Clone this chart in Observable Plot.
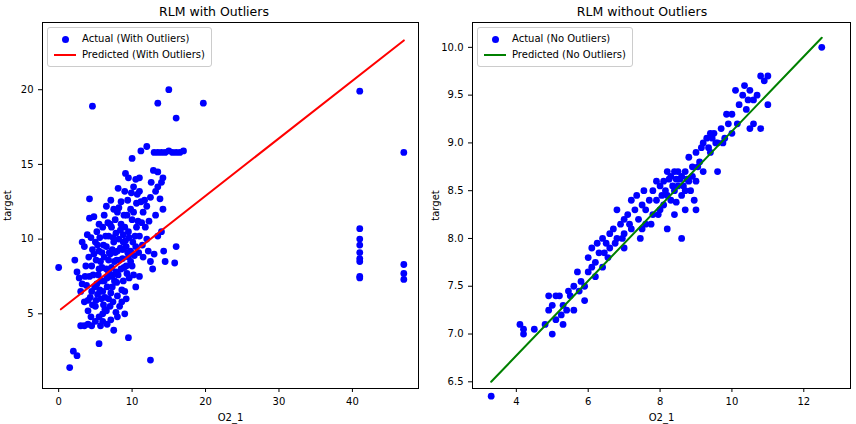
<!DOCTYPE html>
<html><head><meta charset="utf-8">
<script src="https://cdn.jsdelivr.net/npm/d3@7"></script>
<script src="https://cdn.jsdelivr.net/npm/@observablehq/plot@0.6"></script>
<style>
body{margin:0;background:#fff;font-family:"DejaVu Sans",sans-serif;}
#wrap{display:flex;width:856px;}
.panel{width:428px;position:relative;}
.title{height:22px;line-height:24px;text-align:center;font-size:12.5px;}
.legend{position:absolute;border:1px solid #ccc;border-radius:3px;background:#fff;font-size:10px;padding:3px 6px;line-height:16px;}
.legend span{display:inline-block;vertical-align:middle;margin-right:6px;}
</style></head><body>
<div id="wrap"><div class="panel" id="p1"></div><div class="panel" id="p2"></div></div>
<script>
// points
const withOutliers = [[3,4.2],[3.5,4.2],[4,4.3],[4.5,4.2],[5,4.5],[5.5,4.8],[6,5],[6.5,5.2],[7,5.5],[8,4.8],[9,5],[7.5,3.9],[6,4.5],[5,5.5],[4,5.9],[3,6.5],[3.2,7],[2.8,7.4],[2.2,8.6],[2.5,7.8],[3.8,6.9],[4.2,7.5],[4.5,8.2],[4.8,9],[5,9.8],[5.2,10.5],[4.2,11.4],[4.8,11.5],[4.2,12.7],[3.5,9.5],[3.2,9.8],[5.5,8],[5.8,7.2],[6,6.5],[6.2,8.8],[6.5,9.5],[6.8,10.2],[7,11],[7.2,10.8],[7.5,12],[6.5,12.2],[6,10.8],[5.5,11],[7,7.5],[7.3,6.8],[7.6,8.5],[8,9.2],[8.2,10],[8.5,8],[8.8,7.2],[9,6.5],[9.2,9.5],[9.5,10.5],[9.8,12],[10,11.3],[10.2,13.5],[10.5,14],[9.5,14.1],[9,13.2],[8.5,12.5],[8,11.8],[10,15.4],[11,14.1],[11.2,12.5],[11.5,11.8],[11.8,10.8],[12,10],[12.2,9.2],[12.5,8.5],[12.8,8],[13,9],[13.5,10.2],[14,10.5],[14.3,9.2],[14.5,8.5],[14.2,12],[13.8,12.7],[13.5,13.5],[13.2,13.2],[14,13.8],[14.2,14.1],[13.5,14.5],[13,15.8],[13.5,15.8],[14,15.8],[14.5,15.8],[15,15.9],[15.5,15.8],[16,15.8],[16.5,15.8],[17,15.9],[11.2,15.9],[12,16.2],[13.5,19.1],[15,20],[16,18.1],[19.7,19.1],[4.6,18.9],[0,8.1],[1.5,1.4],[2,2.5],[2.5,2.2],[12.5,1.9],[9.5,3.4],[5.5,3],[16,9.5],[15.8,8.4],[11,7.5],[10.5,6.8],[10,8.2],[9.5,8.8],[8.8,9.8],[7.8,7.8],[6.8,6],[5.8,6],[4.5,6.5],[4,5.2],[3.5,5.8],[8,6.2],[8.3,5.5],[10.5,9.5],[11,10.2],[7,9],[7.5,9.8],[6.5,8],[5.2,7],[5.5,9.2],[8.5,11],[9,10.8],[9.8,9.2],[10.2,7.6],[11.5,8.8],[12,12.2],[12.5,12.8],[11,13.2],[6.2,7.2],[6.8,8.6],[7.3,9.3],[7.8,10.4],[8.4,9.4],[9.2,8.2],[9.6,7.4],[10.4,10.2],[10.8,11.2],[11.4,9.6],[6.4,10.2],[5.7,8.5],[4.7,7.6],[5.3,6.3],[6.6,6.8],[7.9,7.1],[8.7,8.7],[9.3,11.6],[10.6,12.4],[12.3,11.2],[13.2,11.6],[7.4,5.8],[6.1,5.6],[4.4,4.8],[8.1,13.4],[9.1,14.4],[10.7,13],
  [4.3,6.1],[4.6,5.6],[4.9,6.8],[5.1,5.9],[5.4,7.6],[5.6,6.6],[5.9,8.1],[6.1,9.6],[6.3,6.1],[6.6,7.4],[6.9,9.1],[7.1,6.4],[7.2,8.1],[7.4,10.1],[7.6,7.2],[7.7,9.1],[7.9,8.6],[8.1,7.6],[8.3,8.6],[8.4,10.6],[8.6,6.6],[8.7,9.3],[8.9,8.1],[9.1,9.9],[9.3,7.7],[9.4,9.1],[9.6,10.1],[9.8,8.5],[10.1,9.8],[10.3,8.9],[10.6,10.8],[10.9,9.1],[11.3,11.1],[5.1,8.6],[5.3,9.6],[5.6,10.1],[5.9,9.1],[6.2,11.6],[6.7,11.1],[7.1,12.6],[7.7,11.3],[8.2,12.1],[8.9,11.6],[9.4,12.6],[9.9,13.1],[6.3,5.3],[7.1,4.6],[6.6,4.3],[5.7,4.2],[7.8,5.1],[8.6,5.8],[9.2,6],[4.1,8.8],[3.7,8.2],[3.9,10.3],[4.4,10.1],[4.6,9.3],[3.6,7.5],[6.8,7.8],[7.4,7.6],[8.8,10.3],[10.2,11.8],[11.7,12.6],[12.6,13.8],[12.9,14.6],[41,19.9],[41,10.7],[41,10],[41,9.6],[41,9.1],[41,8.7],[41,8.5],[41,7.5],[41,7.4],[47,15.8],[47,8.3],[47,7.7],[47,7.3]];
const lineWith = [[0.3,5.3],[47,23.3]];
const noOutliers = [[3.3,6.35],[4.1,7.1],[4.2,7.0],[4.2,7.05],[4.5,7.05],[4.8,7.1],[4.9,7.25],[5.0,7.0],[5.0,7.3],[5.1,7.4],[5.1,7.15],[5.2,7.4],[5.3,7.3],[5.4,7.25],[5.5,7.4],[5.6,7.5],[5.7,7.65],[5.8,7.55],[5.9,7.5],[6.0,7.65],[6.0,7.8],[6.1,7.7],[6.2,7.6],[6.2,7.75],[6.3,7.85],[6.4,7.7],[6.5,7.95],[6.6,7.9],[6.6,8.05],[6.7,8.1],[6.8,8.0],[6.9,8.15],[7.0,8.2],[7.0,8.05],[7.1,8.25],[7.2,8.1],[7.3,8.3],[7.4,8.2],[7.5,8.35],[7.5,8.1],[7.6,8.3],[7.7,8.4],[7.8,8.25],[7.8,8.5],[7.9,8.4],[8.0,8.55],[8.0,8.3],[8.1,8.6],[8.2,8.45],[8.3,8.65],[8.3,8.4],[8.4,8.7],[8.5,8.55],[8.5,8.7],[8.6,8.45],[8.6,8.65],[8.7,8.7],[8.7,8.5],[8.8,8.6],[8.8,8.85],[8.9,8.75],[9.0,8.6],[9.0,8.9],[9.1,8.8],[9.2,9.0],[9.3,9.05],[9.4,9.1],[9.5,9.1],[9.6,9.0],[9.7,9.15],[9.8,9.05],[9.9,9.2],[10.0,9.3],[10.0,9.1],[10.2,9.4],[10.3,9.5],[10.4,9.35],[10.5,9.55],[10.6,9.45],[10.7,9.5],[10.8,9.7],[10.9,9.65],[10.6,9.2],[10.5,9.15],[11.0,9.4],[12.5,10.0],[8.6,8.0],[8.2,8.1],[9.6,8.7],[7.2,8.4],[6.8,8.3],[7.0,7.9],[5.6,7.25],[6.1,7.9],[9.0,8.3],[8.9,8.65],[7.6,8.15],[7.9,8.6],[8.1,8.35],[8.4,8.5],[8.2,8.7],[8.7,8.3],[8.4,8.25],[9.2,8.7],[9.4,8.9],[6.4,8.0],[5.9,7.35],[5.3,7.1],[4.9,7.4],[10.1,9.55],[11.0,9.7],[10.8,9.15],
  [7.35,8.45],[7.55,8.5],[7.75,8.15],[7.95,8.25],[8.15,8.5],[8.25,8.62],[8.35,8.55],[8.45,8.38],[8.55,8.62],[8.65,8.55],[8.75,8.62],[8.45,8.62],[8.05,8.45],[8.85,8.5],[9.05,8.75],[9.15,8.95],[9.35,8.95],[9.45,9.05],[9.55,9.0],[9.75,9.0],[9.85,9.3],[10.15,9.2],[10.35,9.6],[10.45,9.45],[6.55,7.8],[6.75,7.95],[6.95,8.0],[7.15,8.15],[5.75,7.45],[5.45,7.45],[5.25,7.2],[6.25,7.95],[6.45,7.85],[7.45,8.0],[8.95,8.4]];
const lineNo = [[3.3,6.5],[12.5,10.1]];

function panel(id, title, pts, line, lineColor, labels, xOpt, yOpt, mL, mR) {
  const el = document.getElementById(id);
  el.innerHTML = `<div class="title">${title}</div>`;
  const chart = Plot.plot({
    width: 428, height: 402,
    marginLeft: mL, marginRight: mR, marginTop: 0, marginBottom: 36,
    style: {fontSize: "10px", fontFamily: "DejaVu Sans"},
    x: {...xOpt, label: "O2_1", labelAnchor: "center", labelArrow: "none", labelOffset: 32, tickSize: 4},
    y: {...yOpt, label: "target", labelAnchor: "center", labelArrow: "none", tickSize: 4},
    marks: [
      Plot.frame({stroke: "#000"}),
      Plot.dot(pts, {x: d => d[0], y: d => d[1], r: 3.4, fill: "#0000ff", stroke: null}),
      Plot.line(line, {x: d => d[0], y: d => d[1], stroke: lineColor, strokeWidth: 2})
    ]
  });
  el.append(chart);
  const lg = document.createElement("div");
  lg.className = "legend";
  lg.style.left = (mL + 5) + "px"; lg.style.top = "27px";
  lg.innerHTML = `<div><span style="width:22px;text-align:center"><span style="width:7px;height:7px;border-radius:50%;background:#00f;margin:0"></span></span>${labels[0]}</div>` +
    `<div><span style="width:22px;height:2px;background:${lineColor}"></span>${labels[1]}</div>`;
  el.append(lg);
}

panel("p1", "RLM with Outliers", withOutliers, lineWith, "#ff0000",
  ["Actual (With Outliers)", "Predicted (With Outliers)"],
  {domain: [-2.2, 49], ticks: [0, 10, 20, 30, 40]},
  {domain: [0.0, 24.5], ticks: [5, 10, 15, 20]}, 42, 10);
panel("p2", "RLM without Outliers", noOutliers, lineNo, "#008000",
  ["Actual (No Outliers)", "Predicted (No Outliers)"],
  {domain: [2.78, 13.3], ticks: [4, 6, 8, 10, 12]},
  {domain: [6.43, 10.26], ticks: [6.5, 7, 7.5, 8, 8.5, 9, 9.5, 10], tickFormat: d3.format(".1f")}, 44, 6);
</script>
</body></html>
